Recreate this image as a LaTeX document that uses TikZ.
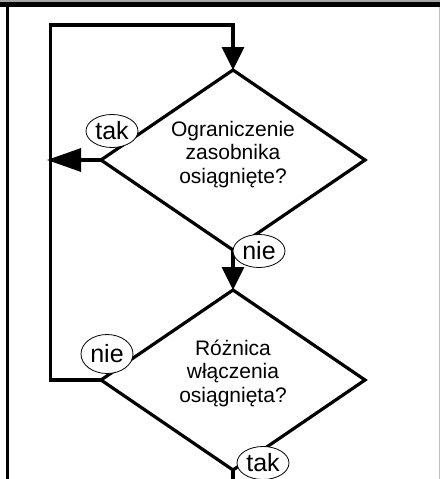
\documentclass[tikz,border=0pt]{standalone}
\usepackage{fontspec}
\setmainfont{Liberation Sans}
\usetikzlibrary{shapes.geometric,arrows.meta}
\tikzset{
  flow/.style={line width=3.2pt, line join=miter, line cap=butt},
  arr/.style={flow, -{Triangle[length=23pt,width=22pt]}},
  arrL/.style={flow, -{Triangle[length=34pt,width=23pt]}},
  decision/.style={diamond, draw, line width=3.2pt, line join=miter, minimum width=264pt, minimum height=180pt, inner sep=0pt, outer sep=0pt},
  dtext/.style={font=\fontsize{21}{23.5}\selectfont, align=center, inner sep=0pt},
  answer/.style={ellipse, draw, line width=0.8pt, fill=white, minimum width=52pt, minimum height=33pt, inner sep=0pt, font=\fontsize{25}{28}\selectfont}
}
\begin{document}
\begin{tikzpicture}[x=1pt,y=-1pt]
\useasboundingbox (0,0) rectangle (440,479);
% frame
\fill[gray!70] (0,0) rectangle (440,1.7);
\fill[black] (0,1.7) rectangle (440,7.3);
\fill[black] (6,7) rectangle (9.3,479);
\fill[gray!50] (438.5,7.3) rectangle (439.5,479);
% decisions
\node[decision] (d1) at (233,160) {};
\node[decision] (d2) at (233,380) {};
\node[dtext] (t1) at (233,154.5) {Ograniczenie\\zasobnika\\osiągnięte?};
\node[dtext] (t2) at (233,373) {Różnica\\włączenia\\osiągnięta?};
% connector coordinates
\coordinate (tipL) at (47,160);
\coordinate (lb) at (50.5,380);
\coordinate (lt) at (50.5,25);
\coordinate (bot) at (233,482);
% connectors
\draw[arrL] (d1.west) -- (tipL);
\draw[arr] (d1.south) -- (d2.north);
\draw[arr] (d2.west) -- (lb) -- (lt) -| (d1.north);
\draw[flow] (d2.south) -- (bot);
% answer labels
\node[answer] (a1) at (112,131) {tak};
\node[answer] (a2) at (259,251) {nie};
\node[answer, minimum height=39pt] (a3) at (107,354) {nie};
\node[answer] (a4) at (263,463) {tak};
\end{tikzpicture}
\end{document}
